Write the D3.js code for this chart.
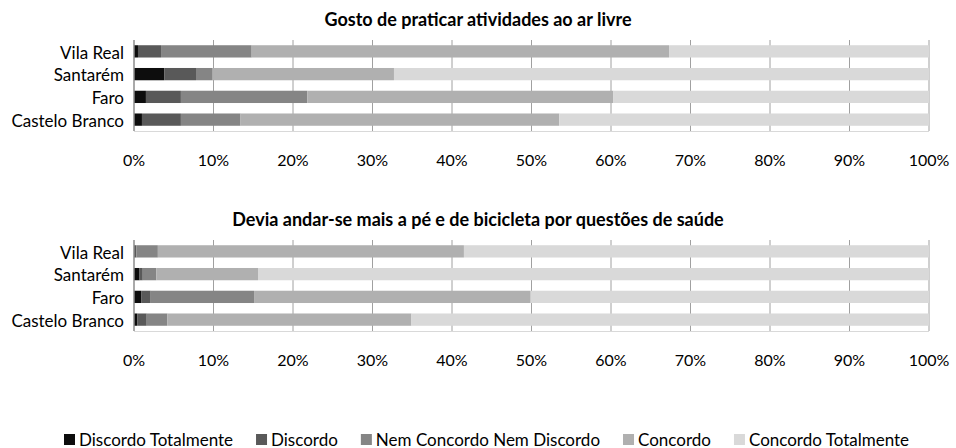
<!DOCTYPE html>
<html>
<head>
<meta charset="utf-8">
<script src="https://cdn.jsdelivr.net/npm/d3@7"></script>
<style>
  body { margin: 0; background: #fff; }
  text { font-family: Lato, "Noto Sans", sans-serif; fill: #000; }
</style>
</head>
<body>
<svg id="chart" width="956" height="448"></svg>
<script>
// Regions (top to bottom)
const regions = ["Vila Real", "Santarém", "Faro", "Castelo Branco"];

// Answer levels, in stacking order
const levels = ["Discordo Totalmente", "Discordo", "Nem Concordo Nem Discordo", "Concordo", "Concordo Totalmente"];
const levelColors = ["#0d0d0d", "#595959", "#858585", "#b0b0b0", "#d9d9d9"];

// Axis ticks (%)
const tickValues = [0, 10, 20, 30, 40, 50, 60, 70, 80, 90, 100];

// Panel 1: "Gosto de praticar atividades ao ar livre" (% per region)
const title1 = "Gosto de praticar atividades ao ar livre";
const outdoorDiscordoTotalmente = [0.5, 3.8, 1.5, 1.0];
const outdoorDiscordo           = [2.9, 4.0, 4.4, 4.9];
const outdoorNem                = [11.4, 2.1, 15.9, 7.5];
const outdoorConcordo           = [52.5, 22.8, 38.5, 40.1];
const outdoorConcordoTotalmente = [32.7, 67.3, 39.7, 46.5];

// Panel 2: "Devia andar-se mais a pé e de bicicleta por questões de saúde" (% per region)
const title2 = "Devia andar-se mais a pé e de bicicleta por questões de saúde";
const walkDiscordoTotalmente = [0.0, 0.7, 0.9, 0.4];
const walkDiscordo           = [0.3, 0.4, 1.2, 1.2];
const walkNem                = [2.7, 1.7, 13.0, 2.6];
const walkConcordo           = [38.5, 12.8, 34.8, 30.7];
const walkConcordoTotalmente = [58.5, 84.4, 50.1, 65.1];

const panels = [
  { title: title1, top: 0,
    series: [outdoorDiscordoTotalmente, outdoorDiscordo, outdoorNem, outdoorConcordo, outdoorConcordoTotalmente] },
  { title: title2, top: 200,
    series: [walkDiscordoTotalmente, walkDiscordo, walkNem, walkConcordo, walkConcordoTotalmente] }
];

const svg = d3.select("#chart");
const x = d3.scaleLinear().domain([0, 100]).range([134, 929]);

panels.forEach(p => {
  const g = svg.append("g").attr("transform", `translate(0,${p.top})`);
  const plotTop = 40, plotBottom = 131;
  const y = d3.scaleBand().domain(regions).range([plotTop, plotBottom]).paddingInner(0.46).paddingOuter(0.23);

  // title
  g.append("text")
    .attr("x", 478).attr("y", 26)
    .attr("text-anchor", "middle")
    .attr("font-size", 18).attr("font-weight", "bold")
    .text(p.title);

  // vertical gridlines
  g.append("g").selectAll("line")
    .data(tickValues.slice(1))
    .join("line")
    .attr("x1", d => x(d)).attr("x2", d => x(d))
    .attr("y1", plotTop).attr("y2", plotBottom)
    .attr("stroke", "#a0a0a0").attr("stroke-width", 1);

  // bottom axis line
  g.append("line")
    .attr("x1", x(0)).attr("x2", x(100))
    .attr("y1", plotBottom + 0.5).attr("y2", plotBottom + 0.5)
    .attr("stroke", "#d9d9d9");

  // stacked bars
  const rows = regions.map((r, i) => {
    const o = { region: r };
    levels.forEach((l, k) => { o[l] = p.series[k][i]; });
    return o;
  });
  const stacked = d3.stack().keys(levels)(rows);
  g.append("g").selectAll("g")
    .data(stacked)
    .join("g")
    .attr("fill", (d, k) => levelColors[k])
    .selectAll("rect")
    .data(d => d)
    .join("rect")
    .attr("x", d => x(d[0]))
    .attr("width", d => x(d[1]) - x(d[0]))
    .attr("y", d => y(d.data.region))
    .attr("height", y.bandwidth());

  // left axis line
  g.append("line")
    .attr("x1", x(0)).attr("x2", x(0))
    .attr("y1", plotTop).attr("y2", plotBottom)
    .attr("stroke", "#8c8c8c").attr("stroke-width", 1.5);

  // category labels
  g.append("g").selectAll("text")
    .data(regions)
    .join("text")
    .attr("x", 124)
    .attr("y", d => y(d) + y.bandwidth() / 2)
    .attr("dy", "0.42em")
    .attr("text-anchor", "end")
    .attr("font-size", 17)
    .text(d => d);

  // tick labels
  g.append("g").selectAll("text")
    .data(tickValues)
    .join("text")
    .attr("x", d => x(d))
    .attr("y", 166)
    .attr("text-anchor", "middle")
    .attr("font-size", 16)
    .text(d => d + "%");
});

// legend
const legend = svg.append("g");
let lx = 64;
levels.forEach((l, k) => {
  legend.append("rect")
    .attr("x", lx).attr("y", 434)
    .attr("width", 11).attr("height", 11)
    .attr("fill", levelColors[k]);
  const t = legend.append("text")
    .attr("x", lx + 15).attr("y", 445.5)
    .attr("font-size", 17)
    .text(l);
  lx += 15 + t.node().getComputedTextLength() + 23;
});
</script>
</body>
</html>
